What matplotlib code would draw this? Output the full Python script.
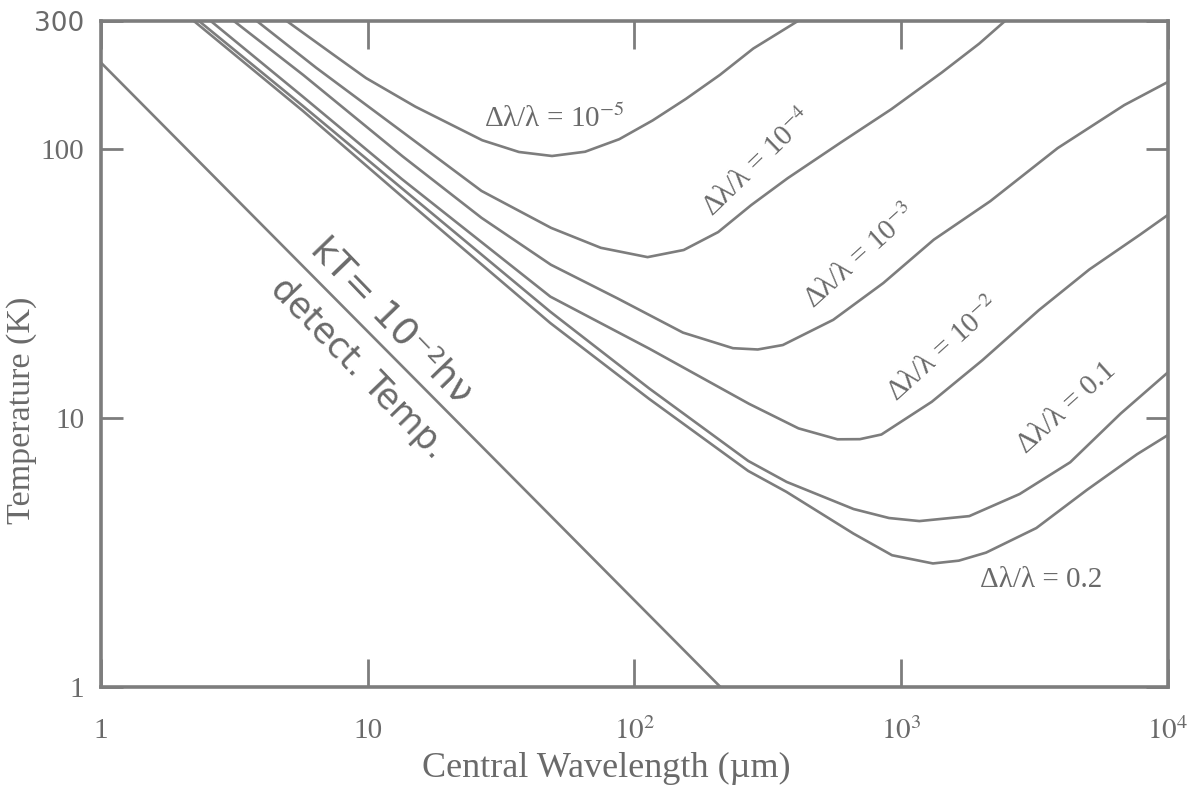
import matplotlib
matplotlib.use('Agg')
import matplotlib.pyplot as plt

plt.rcParams['font.family'] = ['Liberation Serif', 'DejaVu Serif']
plt.rcParams['mathtext.fontset'] = 'stix'

INK = '#7d7d7d'
TEXT = '#6a6a6a'

# Central wavelength (um) and required temperature (K)
lam_1e5 = [4.97, 7.43, 9.86, 15.1, 26.9, 36.9, 49.1, 65.3, 87.7, 117, 156, 209, 279, 410]
T_1e5 = [300, 225, 184, 144, 108, 97.7, 94.4, 97.9, 109, 128, 154, 189, 237, 300]

lam_1e4 = [3.84, 6.41, 13.5, 26.7, 48.7, 74.8, 112, 153, 206, 274, 375, 594, 919, 1420, 1960, 2450]
T_1e4 = [300, 201, 116, 70.0, 51.0, 43.0, 39.7, 42.2, 49.2, 62, 78, 106, 141, 193, 247, 300]

lam_1e3 = [3.15, 5.73, 13.5, 26.7, 48.6, 86.3, 152, 234, 290, 360, 556, 857, 1325, 2157, 3860, 6860, 10000]
T_1e3 = [300, 189, 94.2, 55.6, 37.2, 27.9, 20.8, 18.2, 18.0, 18.7, 23.2, 31.8, 46.1, 64.1, 101, 146, 178]

lam_1e2 = [2.58, 5.71, 13.4, 48.4, 114, 269, 412, 577, 700, 843, 1302, 2013, 3280, 5070, 7830, 10000]
T_1e2 = [300, 157, 77.6, 28.3, 18.1, 11.3, 9.16, 8.34, 8.35, 8.69, 11.5, 16.4, 25.2, 35.7, 48.0, 57]

lam_01 = [2.33, 5.71, 13.4, 48.3, 113.5, 267, 372, 663, 900, 1170, 1800, 2780, 4300, 6650, 10000]
T_01 = [300, 145, 71.7, 24.9, 12.9, 6.93, 5.79, 4.59, 4.25, 4.14, 4.32, 5.22, 6.85, 10.4, 14.8]

lam_02 = [2.23, 5.71, 13.4, 48.3, 113.4, 267, 371, 662, 924, 1315, 1645, 2080, 3210, 4960, 7660, 10000]
T_02 = [300, 139, 66.9, 22.6, 11.8, 6.36, 5.32, 3.72, 3.09, 2.88, 2.95, 3.16, 3.90, 5.40, 7.34, 8.65]

# kT = 1e-2 h nu line (detector temperature)
lam_kt = [1, 210]
T_kt = [210, 1]

x_ticks = [1, 10, 100, 1000, 10000]
x_ticklabels = ['1', '10', '$10^2$', '$10^3$', '$10^4$']
y_ticks = [1, 10, 100, 300]
y_ticklabels = ['1', '10', '100', '300']

series = [
    (lam_1e5, T_1e5), (lam_1e4, T_1e4), (lam_1e3, T_1e3),
    (lam_1e2, T_1e2), (lam_01, T_01), (lam_02, T_02), (lam_kt, T_kt),
]

# label text, anchor (data coords), rotation
curve_labels = [
    ('\u0394\u03bb/\u03bb = 10$^{-5}$', (50, 130), 0),
    ('\u0394\u03bb/\u03bb = 10$^{-4}$', (290, 89), 44),
    ('\u0394\u03bb/\u03bb = 10$^{-3}$', (705, 40), 42),
    ('\u0394\u03bb/\u03bb = 10$^{-2}$', (1450, 18), 42),
    ('\u0394\u03bb/\u03bb = 0.1', (4170, 10.9), 42),
    ('\u0394\u03bb/\u03bb = 0.2', (3360, 2.5), 0),
]

fig = plt.figure(figsize=(11.89, 7.86), dpi=100)
ax = fig.add_axes([0.0849, 0.126, 0.8974, 0.8473])

for lam, T in series:
    ax.plot(lam, T, color=INK, lw=1.9, solid_joinstyle='round',
            solid_capstyle='round')

ax.set_xscale('log')
ax.set_yscale('log')
ax.set_xlim(1, 1e4)
ax.set_ylim(1, 300)

ax.set_xticks(x_ticks)
ax.set_xticklabels(x_ticklabels)
ax.set_yticks(y_ticks)
ax.set_yticklabels(y_ticklabels)
ax.minorticks_off()
ax.tick_params(axis='x', direction='in', length=20, width=2.0, color=INK,
               top=True, pad=22, labelsize=21, labelcolor=TEXT)
ax.tick_params(axis='y', direction='in', length=16, width=2.0, color=INK,
               right=True, pad=12, labelsize=21, labelcolor=TEXT)
# the 300 label is handwritten on the original
lbl300 = ax.get_yticklabels()[-1]
lbl300.set_fontfamily('DejaVu Sans')
lbl300.set_fontsize(19)

for sp in ax.spines.values():
    sp.set_color(INK)
    sp.set_linewidth(2.6)

for txt, (lx, ty), rot in curve_labels:
    ax.text(lx, ty, txt, fontsize=21, color=TEXT, rotation=rot,
            ha='center', va='center', rotation_mode='anchor')

# handwritten notes along the detector-temperature line
ax.text(12.3, 23.0, 'kT= 10\u207b\u00b2h\u03bd', fontsize=27, color=TEXT,
        family='DejaVu Sans', rotation=-46, ha='center', va='center',
        rotation_mode='anchor')
ax.text(9.2, 15.3, 'detect. Temp.', fontsize=25, color=TEXT,
        family='DejaVu Sans', rotation=-46, ha='center', va='center',
        rotation_mode='anchor')

ax.set_xlabel('Central Wavelength (\u00b5m)', fontsize=26, color=TEXT)
ax.set_ylabel('Temperature (K)', fontsize=24.5, color=TEXT)
ax.xaxis.set_label_coords(0.474, -0.098)
ax.yaxis.set_label_coords(-0.060, 0.416)

fig.savefig('out.png', dpi=100, facecolor='white')
